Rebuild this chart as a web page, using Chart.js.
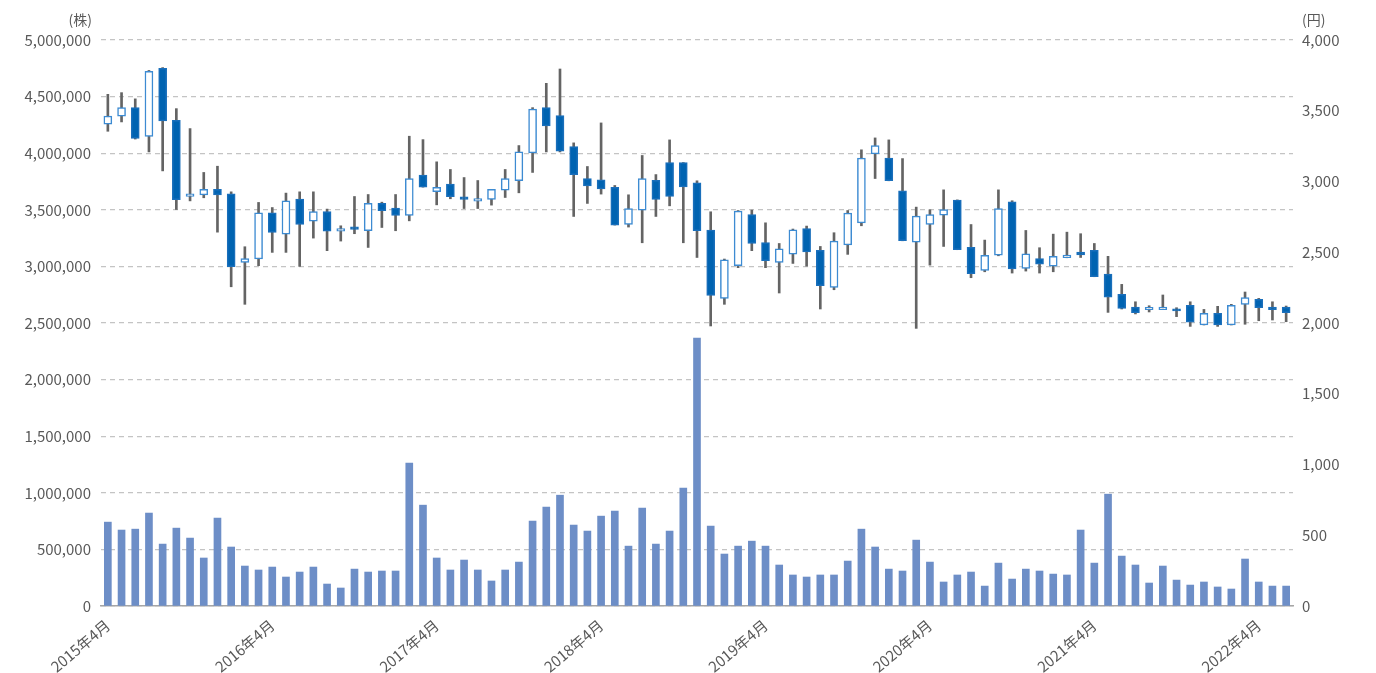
<!DOCTYPE html>
<html>
<head>
<meta charset="utf-8">
<script src="https://cdn.jsdelivr.net/npm/chart.js@4.4.0/dist/chart.umd.min.js"></script>
<style>
  html, body { margin: 0; background: #fff; }
  #wrap { width: 1376px; height: 673px; }
</style>
</head>
<body>
<div id="wrap"><canvas id="chart"></canvas></div>
<script>
// monthly, 2015年4月 .. 2022年6月
const months = [];
for (let i = 0; i < 87; i++) {
  const m = 3 + i;
  months.push((2015 + Math.floor(m / 12)) + '年' + (m % 12 + 1) + '月');
}

// 株価 (円)
const open = [3405,3461,3522,3318,3800,3433,2894,2906,2944,2913,2428,2452,2779,2628,2875,2720,2788,2649,2680,2652,
  2845,2812,2760,3045,2929,2981,2892,2861,2873,2939,3005,3202,3522,3466,3247,3021,3012,2958,2696,2798,
  3009,3134,3134,2991,2656,2174,2405,2767,2569,2428,2487,2668,2513,2252,2551,2708,3195,3165,2934,2572,
  2696,2762,2868,2534,2372,2480,2856,2386,2456,2402,2461,2501,2513,2346,2202,2113,2094,2094,2101,2125,
  1986,2068,1986,2132,2167,2113,2113];
const high = [3616,3628,3584,3785,3805,3515,3374,3064,3108,2927,2539,2852,2816,2918,2927,2927,2805,2687,2894,2908,
  2854,2908,3320,3296,3139,3085,3028,3007,2944,3085,3254,3522,3694,3795,3273,3106,3414,2972,2906,3184,
  3049,3294,3134,3005,2786,2452,2795,2798,2708,2562,2664,2685,2541,2638,2795,3224,3308,3294,3162,2819,
  2800,2941,2870,2696,2586,2941,2864,2654,2532,2628,2642,2631,2562,2471,2273,2150,2122,2198,2108,2150,
  2096,2118,2132,2219,2174,2150,2120];
const low = [3355,3421,3300,3209,3075,2802,2863,2885,2642,2256,2132,2405,2499,2499,2400,2600,2511,2579,2631,2534,
  2675,2652,2722,2960,2835,2878,2809,2809,2833,2887,2920,3064,3209,3209,2753,2845,2911,2692,2678,2567,
  2753,2828,2567,2463,1979,2132,2391,2511,2391,2212,2421,2402,2099,2235,2485,2687,3021,3005,2581,1962,
  2409,2541,2518,2320,2362,2475,2353,2367,2353,2362,2461,2463,2327,2075,2099,2064,2078,2094,2045,1976,
  1986,1976,1986,1991,2016,2021,2009];
const close = [3463,3522,3304,3779,3428,2871,2913,2944,2906,2398,2456,2779,2640,2864,2696,2788,2649,2668,2661,2845,
  2793,2760,3021,2960,2958,2892,2873,2880,2944,3021,3209,3511,3393,3214,3049,2969,2948,2692,2809,3021,
  2873,2894,2962,2652,2195,2447,2791,2562,2440,2525,2659,2503,2264,2579,2776,3165,3254,3005,2581,2755,
  2767,2802,2518,2348,2478,2809,2383,2489,2416,2471,2480,2482,2327,2183,2103,2073,2110,2113,2085,2005,
  2068,1986,2125,2179,2108,2094,2073];

// 出来高 (株)
const volume = [741000,671000,679000,821000,547000,688000,600000,424000,776000,521000,
  353000,318000,344000,256000,300000,344000,194000,159000,326000,300000,
  309000,309000,1262000,891000,424000,318000,406000,318000,221000,318000,
  388000,750000,873000,979000,715000,662000,794000,838000,529000,865000,
  547000,662000,1041000,2367000,706000,459000,529000,573000,529000,362000,
  274000,256000,274000,274000,397000,679000,521000,326000,309000,582000,
  388000,212000,274000,300000,176000,379000,238000,326000,309000,282000,
  274000,671000,379000,988000,441000,362000,203000,353000,229000,185000,
  212000,168000,150000,415000,212000,176000,176000];

const volTicks = { min: 0, max: 5000000, step: 500000 };
const priceTicks = { min: 0, max: 4000, step: 500 };

const textColor = '#595959';
const fontFamily = "'Noto Sans CJK JP', 'Noto Sans', sans-serif";
Chart.defaults.font.family = fontFamily;
Chart.defaults.font.size = 15;
Chart.defaults.color = textColor;

const isUp = i => close[i] > open[i];

const unitLabels = {
  id: 'unitLabels',
  afterDraw(chart) {
    const { ctx, scales, chartArea } = chart;
    ctx.save();
    ctx.font = '14px ' + fontFamily;
    ctx.fillStyle = textColor;
    ctx.textBaseline = 'middle';
    ctx.textAlign = 'right';
    ctx.fillText('(株)', scales.y.right - 9, chartArea.top - 20);
    ctx.textAlign = 'left';
    ctx.fillText('(円)', scales.y1.left + 9, chartArea.top - 20);
    ctx.restore();
  }
};

new Chart(document.getElementById('chart'), {
  type: 'bar',
  data: {
    labels: months,
    datasets: [
      {
        label: 'body',
        yAxisID: 'y1',
        data: open.map((o, i) => [o, close[i]]),
        barThickness: 8,
        grouped: false,
        order: 1,
        borderWidth: 1.5,
        borderSkipped: false,
        backgroundColor: c => isUp(c.dataIndex) ? '#ffffff' : '#0063b1',
        borderColor: c => isUp(c.dataIndex) ? '#3d8bd2' : '#1a6fbb'
      },
      {
        label: 'wick',
        yAxisID: 'y1',
        data: low.map((l, i) => [l, high[i]]),
        barThickness: 2,
        grouped: false,
        order: 2,
        backgroundColor: '#646464'
      },
      {
        label: '出来高',
        yAxisID: 'y',
        data: volume,
        barThickness: 7,
        grouped: false,
        order: 3,
        backgroundColor: '#6d8ec7'
      }
    ]
  },
  options: {
    responsive: true,
    maintainAspectRatio: false,
    animation: false,
    layout: { padding: { top: 40, left: 0, right: 0, bottom: 0 } },
    plugins: { legend: { display: false }, tooltip: { enabled: false } },
    scales: {
      x: {
        offset: true,
        grid: { display: false },
        border: { display: true, color: '#a6a6a6', width: 1.5 },
        ticks: {
          autoSkip: false,
          minRotation: 40,
          maxRotation: 40,
          padding: 2,
          callback: (v, i) => (i % 12 === 0 ? months[i] : '')
        },
        afterFit: s => { s.height = 67; }
      },
      y: {
        position: 'left',
        min: volTicks.min,
        max: volTicks.max,
        ticks: {
          stepSize: volTicks.step,
          padding: 10,
          callback: v => v.toLocaleString('en-US')
        },
        grid: { color: '#c4c4c4', lineWidth: 1.2, drawTicks: false },
        border: { display: false, dash: [5, 4] },
        afterFit: s => { s.width = 101; }
      },
      y1: {
        position: 'right',
        min: priceTicks.min,
        max: priceTicks.max,
        ticks: {
          stepSize: priceTicks.step,
          padding: 9,
          callback: v => v.toLocaleString('en-US')
        },
        grid: { display: false, drawTicks: false },
        border: { display: false },
        afterFit: s => { s.width = 83; }
      }
    }
  },
  plugins: [unitLabels]
});
</script>
</body>
</html>
